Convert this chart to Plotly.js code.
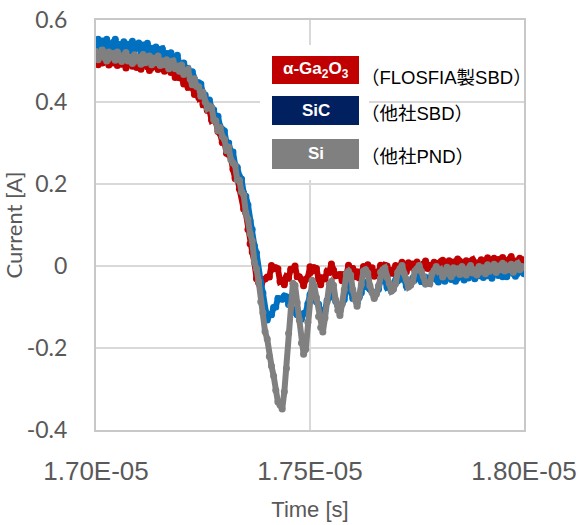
<!DOCTYPE html>
<html>
<head>
<meta charset="utf-8">
<script src="https://cdn.plot.ly/plotly-3.0.1.min.js"></script>
<style>html,body{margin:0;padding:0;background:#fff;}#chart{width:579px;height:525px;}</style>
</head>
<body>
<div id="chart"></div>
<script>
// time offset from 1.70E-05 s, in ns
const timeNs = [0,5,10,15,20,25,30,35,40,45,50,55,60,65,70,75,80,85,90,95,
100,105,110,115,120,125,130,135,140,145,150,155,160,165,170,175,180,185,190,195,
200,205,210,215,220,225,230,235,240,245,250,255,260,265,270,275,280,285,290,295,
300,305,310,315,320,325,330,335,340,345,350,355,360,365,370,375,380,385,390,395,
400,405,410,415,420,425,430,435,440,445,450,455,460,465,470,475,480,485,490,495,
500,505,510,515,520,525,530,535,540,545,550,555,560,565,570,575,580,585,590,595,
600,605,610,615,620,625,630,635,640,645,650,655,660,665,670,675,680,685,690,695,
700,705,710,715,720,725,730,735,740,745,750,755,760,765,770,775,780,785,790,795,
800,805,810,815,820,825,830,835,840,845,850,855,860,865,870,875,880,885,890,895,
900,905,910,915,920,925,930,935,940,945,950,955,960,965,970,975,980,985,990,995,1000];

// α-Ga2O3 (FLOSFIA SBD) current [A]
const currentGa2O3 = [
.507,.491,.514,.495,.501,.511,.490,.507,.495,.512,
.489,.501,.492,.505,.483,.501,.504,.487,.495,.484,
.501,.480,.495,.504,.486,.477,.500,.488,.495,.479,
.499,.482,.475,.489,.495,.472,.478,.460,.477,.459,
.459,
.444,.456,.436,.436,.439,.418,.425,.411,.417,.393,
.394,.380,.381,.356,.360,.352,.328,.323,.302,.303,
.275,.272,.265,.236,.214,.215,.188,.175,.139,.129,
.089,.054,.034,.010,-.031,-.041,-.058,-.033,-.032,-.027,
-.027,.001,-.007,-.004,-.007,-.038,-.035,-.046,-.026,-.029,
-.008,-.008,.000,-.026,-.026,-.033,-.048,-.033,-.028,-.002,
-.012,-.004,-.006,-.032,-.046,-.029,-.031,-.013,-.015,.005,
-.010,-.024,-.022,-.021,-.036,-.021,-.022,.002,-.006,-.006,
-.026,-.014,-.029,-.018,-.001,-.011,.003,-.010,-.004,-.025,
-.015,-.015,.002,-.011,.002,.000,-.018,-.012,-.018,.001,
-.014,-.001,.009,-.007,-.014,.008,-.003,.005,-.009,.010,
-.004,-.010,.005,.012,-.006,.002,-.011,.009,.000,.006,
-.009,.014,-.003,.003,.013,-.006,.010,.000,.017,-.003,
.007,.000,.013,-.006,.011,.015,.000,.008,-.003,.015,
-.003,.010,.020,.004,-.003,.019,.008,.016,.002,.021,
.006,.000,.016,.023,.004,.012,-.001,.019,.009,.015];

// SiC (other SBD) current [A]
const currentSiC = [
.530,.553,.541,.549,.533,.553,.537,.530,.545,.553,
.531,.540,.525,.547,.534,.541,.524,.548,.528,.535,
.544,.523,.539,.527,.543,.520,.531,.522,.534,.512,
.528,.530,.511,.518,.505,.520,.497,.508,.514,.491,
.480,
.495,.481,.482,.464,.474,.455,.443,.447,.444,.419,
.417,.397,.405,.386,.381,.358,.365,.340,.333,.329,
.300,.300,.279,.278,.247,.241,.219,.212,.178,.170,
.149,.110,.089,.050,.032,-.017,-.040,-.066,-.109,-.132,
-.119,-.119,-.101,-.100,-.079,-.080,-.081,-.073,-.075,-.094,
-.097,-.112,-.107,-.119,-.120,-.130,-.116,-.114,-.092,-.070,
-.074,-.068,-.087,-.093,-.115,-.112,-.108,-.084,-.077,-.057,
-.061,-.086,-.097,-.110,-.092,-.082,-.057,-.043,-.059,-.079,
-.080,-.091,-.076,-.065,-.039,-.042,-.052,-.057,-.063,-.076,
-.065,-.057,-.033,-.035,-.034,-.052,-.049,-.061,-.052,-.034,
-.036,-.024,-.032,-.031,-.049,-.045,-.045,-.030,-.033,-.021,
-.023,-.038,-.037,-.044,-.030,-.034,-.023,-.019,-.033,-.039,
-.017,-.032,-.037,-.022,-.014,-.033,-.025,-.037,-.017,-.026,
-.020,-.034,-.012,-.029,-.022,-.012,-.031,-.015,-.024,-.008,
-.028,-.017,-.024,-.011,-.030,-.012,-.009,-.023,-.015,-.026,
-.008,-.026,-.012,-.002,-.018,-.025,-.003,-.013,-.006,-.019];

// Si (other PND) current [A]
const currentSi = [
.523,.503,.517,.527,.508,.500,.522,.511,.518,.502,
.522,.506,.499,.514,.521,.500,.508,.494,.515,.503,
.509,.492,.516,.496,.503,.512,.491,.507,.496,.512,
.489,.500,.491,.503,.481,.498,.500,.481,.488,.475,
.490,
.467,.475,.479,.456,.442,.457,.438,.437,.414,.424,
.400,.385,.390,.387,.357,.354,.330,.338,.316,.309,
.281,.290,.259,.251,.246,.210,.209,.181,.174,.130,
.114,.079,.061,.010,-.007,-.037,-.087,-.114,-.160,-.178,
-.221,-.244,-.268,-.303,-.332,-.339,-.349,-.307,-.250,-.164,
-.097,-.042,-.047,-.089,-.132,-.188,-.215,-.203,-.137,-.083,
-.035,-.049,-.077,-.123,-.150,-.161,-.127,-.088,-.045,-.038,
-.047,-.083,-.108,-.121,-.092,-.058,-.019,-.013,-.022,-.058,
-.082,-.098,-.072,-.045,-.012,-.009,-.017,-.048,-.065,-.079,
-.069,-.048,-.015,-.009,-.005,-.028,-.042,-.061,-.057,-.043,
-.015,-.007,.001,-.018,-.032,-.051,-.047,-.038,-.012,-.007,
.001,-.013,-.025,-.043,-.041,-.043,-.019,-.011,-.001,-.013,
-.009,-.027,-.013,-.003,-.020,-.026,-.004,-.014,-.007,-.021,
-.001,-.016,-.022,-.006,.001,-.017,-.009,-.022,-.001,-.011,
-.004,-.019,.003,-.013,-.007,.004,-.016,.000,-.009,.007,
-.012,-.002,-.009,.004,-.015,.002,.006,-.009,-.001,-.004];

const xTickVals = [1.70e-5, 1.75e-5, 1.80e-5];
const xTickText = ["1.70E-05", "1.75E-05", "1.80E-05"];
const yTickVals = [-0.4, -0.2, 0, 0.2, 0.4, 0.6];
const yTickText = ["-0.4", "-0.2", "0", "0.2", "0.4", "0.6"];
const seriesNames = ["α-Ga<sub>2</sub>O<sub>3</sub>", "SiC", "Si"];
const seriesNotes = ["（FLOSFIA製SBD）", "（他社SBD）", "（他社PND）"];
const seriesColors = ["#c00000", "#0070c0", "#808080"];
const legendBoxColors = ["#c00000", "#002060", "#808080"];

const timeSec = timeNs.map(t => 1.7e-5 + t * 1e-9);
const seriesData = [currentGa2O3, currentSiC, currentSi];

const traces = seriesData.map((y, i) => ({
  type: 'scatter', mode: 'lines+markers',
  x: timeSec, y: y,
  line: {color: seriesColors[i], width: 6},
  marker: {color: seriesColors[i], size: 7},
  showlegend: false, hoverinfo: 'skip'
}));

// plot area pixel helpers (plot: x 96..524, y 20..430)
const px = v => (v - 96) / 428;
const py = v => (430 - v) / 410;

const shapes = [{type:'rect', xref:'paper', yref:'paper', x0:px(260), x1:px(369), y0:py(180), y1:py(45),
  fillcolor:'#ffffff', line:{width:0}, layer:'above'}];
const boxY = [[56,84],[96,125],[139,169]];
const annotations = [];
const noteY = [77, 114, 157];
for (let i = 0; i < 3; i++) {
  shapes.push({type:'rect', xref:'paper', yref:'paper', x0:px(272), x1:px(359), y0:py(boxY[i][1]), y1:py(boxY[i][0]),
    fillcolor: legendBoxColors[i], line:{width:0}, layer:'above'});
  annotations.push({xref:'paper', yref:'paper', x:px(315.5), y:py((boxY[i][0]+boxY[i][1])/2), text:'<b>'+seriesNames[i]+'</b>',
    showarrow:false, xanchor:'center', yanchor:'middle', font:{family:'Liberation Sans, Arial, sans-serif', size:17, color:'#ffffff'}});
  annotations.push({xref:'paper', yref:'paper', x:px(359), y:py(noteY[i]), text:seriesNotes[i],
    showarrow:false, xanchor:'left', yanchor:'middle', font:{family:'Liberation Sans, Noto Sans CJK JP, sans-serif', size:18.5, color:'#000000'}});
}

const layout = {
  width: 579, height: 525,
  margin: {l: 96, r: 55, t: 20, b: 95},
  paper_bgcolor: '#ffffff', plot_bgcolor: '#ffffff',
  showlegend: false,
  xaxis: {
    range: [1.70e-5, 1.80e-5], tickmode: 'array', tickvals: xTickVals, ticktext: xTickText,
    showgrid: true, gridcolor: '#d9d9d9', gridwidth: 1.5,
    showline: true, linecolor: '#c8c8c8', linewidth: 2, mirror: true,
    zeroline: false, ticks: '', ticklabelstandoff: 17,
    tickfont: {family: 'Liberation Sans, Arial, sans-serif', size: 26, color: '#595959'},
    title: {text: 'Time [s]', standoff: 16, font: {family: 'Liberation Sans, Arial, sans-serif', size: 22, color: '#595959'}}
  },
  yaxis: {
    range: [-0.4, 0.6], tickmode: 'array', tickvals: yTickVals, ticktext: yTickText,
    showgrid: true, gridcolor: '#d9d9d9', gridwidth: 1.5,
    showline: true, linecolor: '#c8c8c8', linewidth: 2, mirror: true,
    zeroline: false, ticks: '', ticklabelstandoff: 22,
    tickfont: {family: 'Lato, Carlito, sans-serif', size: 23, color: '#595959'},
    title: {text: 'Current [A]', standoff: 6, font: {family: 'Lato, Carlito, sans-serif', size: 22, color: '#595959'}}
  },
  shapes: shapes,
  annotations: annotations
};

Plotly.newPlot('chart', traces, layout, {displayModeBar: false, staticPlot: true});
</script>
</body>
</html>
